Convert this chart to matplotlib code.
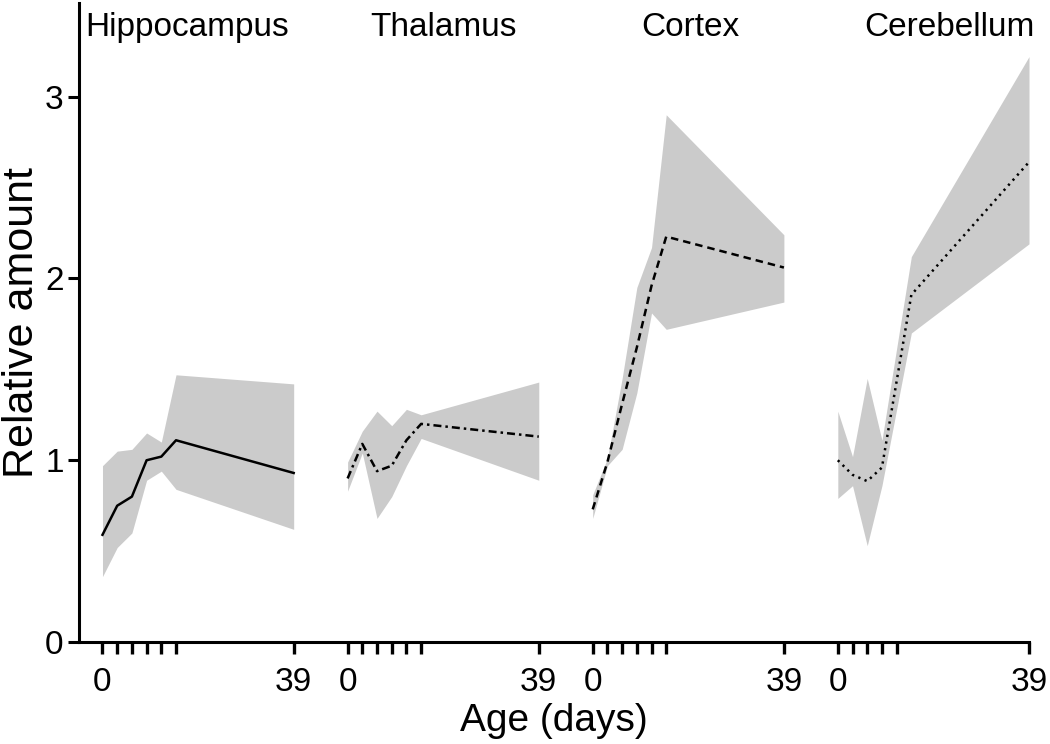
import matplotlib
matplotlib.use("Agg")
import matplotlib.pyplot as plt
import matplotlib.transforms as mtransforms

plt.rcParams['font.family'] = ['Liberation Sans', 'DejaVu Sans']

# Age in days and relative amounts
regions = ['Hippocampus', 'Thalamus', 'Cortex', 'Cerebellum']

hippo_days = [0, 3, 6, 9, 12, 15, 39]
hippo_mean = [0.59, 0.75, 0.80, 1.00, 1.02, 1.11, 0.93]
hippo_upper = [0.97, 1.05, 1.06, 1.15, 1.10, 1.47, 1.42]
hippo_lower = [0.36, 0.52, 0.60, 0.89, 0.94, 0.84, 0.62]

thal_days = [0, 3, 6, 9, 12, 15, 39]
thal_mean = [0.90, 1.09, 0.94, 0.97, 1.11, 1.20, 1.13]
thal_upper = [0.99, 1.16, 1.27, 1.19, 1.28, 1.25, 1.43]
thal_lower = [0.83, 1.04, 0.68, 0.80, 0.97, 1.12, 0.89]

cortex_days = [0, 3, 6, 9, 12, 15, 39]
cortex_mean = [0.73, 0.99, 1.31, 1.62, 1.96, 2.23, 2.06]
cortex_upper = [0.81, 1.01, 1.45, 1.95, 2.17, 2.90, 2.24]
cortex_lower = [0.68, 0.97, 1.06, 1.37, 1.81, 1.72, 1.87]

cereb_days = [0, 3, 6, 9, 15, 39]
cereb_mean = [1.00, 0.92, 0.885, 0.96, 1.91, 2.64]
cereb_upper = [1.27, 1.02, 1.45, 1.11, 2.12, 3.22]
cereb_lower = [0.79, 0.86, 0.53, 0.86, 1.70, 2.19]

tick_days = [[0, 3, 6, 9, 12, 15, 39], [0, 3, 6, 9, 12, 15, 39],
             [0, 3, 6, 9, 12, 15, 39], [0, 3, 6, 9, 12, 39]]

series = [
    (hippo_days, hippo_mean, hippo_upper, hippo_lower, '-'),
    (thal_days, thal_mean, thal_upper, thal_lower, (0, (3.2, 1.6, 1.0, 1.6))),
    (cortex_days, cortex_mean, cortex_upper, cortex_lower, (0, (3.0, 2.0))),
    (cereb_days, cereb_mean, cereb_upper, cereb_lower, (0, (0.9, 1.8))),
]

panel_gap = 50  # each region is shifted along x by this many days
title_x = [17.2, 19.5, 20.0, 22.8]

fig = plt.figure(figsize=(10.5, 7.44), dpi=100)
ax = fig.add_axes([0.0752, 0.137, 0.9048, 0.859])

ticks, labels = [], []
for k, (d, m, up, lo, ls) in enumerate(series):
    off = k * panel_gap
    xs = [v + off for v in d]
    ax.fill_between(xs, lo, up, color='#cbcbcb', linewidth=0, zorder=1)
    ax.plot(xs, m, color='black', linestyle=ls, linewidth=1.8, zorder=2)
    for t in tick_days[k]:
        ticks.append(t + off)
        labels.append(str(t) if t in (0, 39) else '')

trans = mtransforms.blended_transform_factory(ax.transData, ax.transAxes)
for k, name in enumerate(regions):
    ax.text(title_x[k] + k * panel_gap, 0.962, name, transform=trans,
            ha='center', va='center', fontsize=24)

ax.set_xlim(-4.8, 189)
ax.set_ylim(0, 3.515)
ax.set_xticks(ticks)
ax.set_xticklabels(labels)
ax.set_yticks([0, 1, 2, 3])

for s in ['top', 'right']:
    ax.spines[s].set_visible(False)
for s in ['left', 'bottom']:
    ax.spines[s].set_linewidth(2.2)

ax.tick_params(axis='x', length=8.6, width=2.4, labelsize=24, pad=9)
ax.tick_params(axis='y', length=8, width=2.2, labelsize=24, pad=3)

ax.set_xlabel('Age (days)', fontsize=28, labelpad=4)
ax.set_ylabel('Relative amount', fontsize=31, labelpad=2)

fig.savefig('out.png', dpi=100)
